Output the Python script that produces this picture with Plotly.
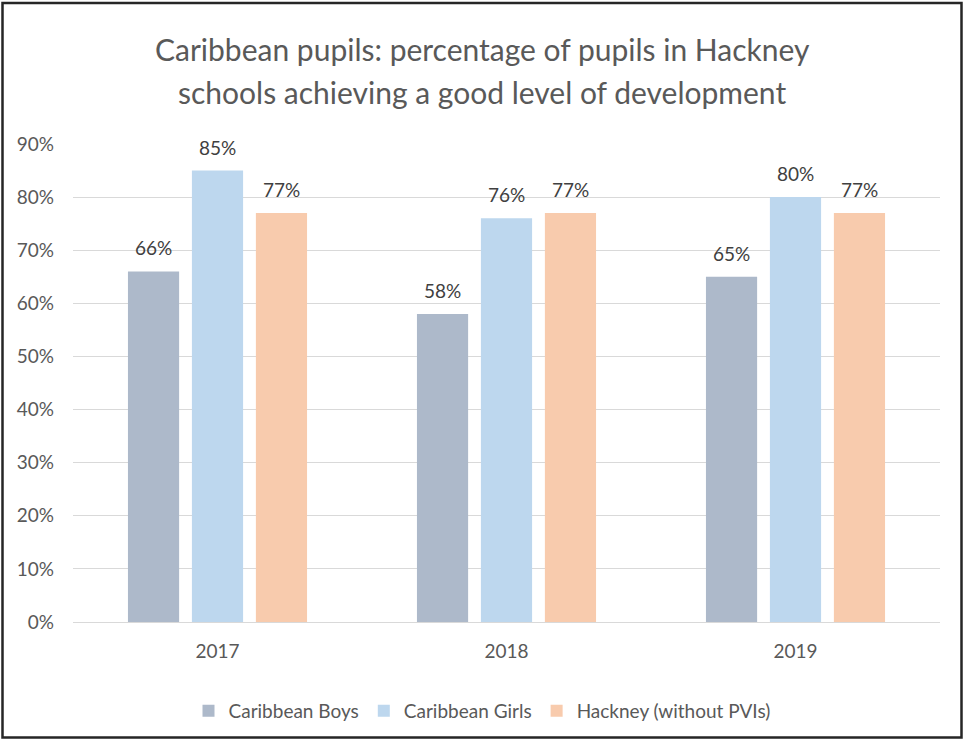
import plotly.graph_objects as go

# Chart data
years = ["2017", "2018", "2019"]
series_names = ["Caribbean Boys", "Caribbean Girls", "Hackney (without PVIs)"]
boys = [66, 58, 65]
girls = [85, 76, 80]
hackney = [77, 77, 77]
series_values = [boys, girls, hackney]
series_colors = ["#adb9ca", "#bdd7ee", "#f8cbad"]
y_ticks = [0, 10, 20, 30, 40, 50, 60, 70, 80, 90]
title_lines = [
    "Caribbean pupils: percentage of pupils in Hackney",
    "schools achieving a good level of development",
]

FONT = "Lato"
TEXT_GREY = "#595959"
LABEL_GREY = "#404040"

W, H = 964, 742
M_L, M_R, M_T, M_B = 73, 24, 144, 120
BARGAP = 0.336
GROUPGAP = 0.2

fig = go.Figure()
for name, vals, col in zip(series_names, series_values, series_colors):
    fig.add_trace(go.Bar(
        x=years, y=vals, name=name, marker=dict(color=col, line=dict(width=0)),
    ))

# Value labels above each bar, shifted to the centre of its bar within the group.
# Category positions are given by index so numeric-looking year names are not
# mistaken for indices.
plot_w = W - M_L - M_R
plot_h = H - M_T - M_B
cat_w = plot_w / len(years)
slot_w = cat_w * (1 - BARGAP) / len(series_names)
annotations = []
for k, vals in enumerate(series_values):
    dx = (k - (len(series_names) - 1) / 2) * slot_w
    for i, v in enumerate(vals):
        annotations.append(dict(
            x=i, y=v, xref="x", yref="y", text=f"{v}%", showarrow=False,
            xshift=dx, yshift=10, yanchor="bottom",
            font=dict(family=FONT, size=19, color=LABEL_GREY),
        ))

# Two-line chart title, placed in pixel terms relative to the figure
px_x = lambda p: (p - M_L) / plot_w
px_y = lambda p: (H - M_B - p) / plot_h
for line, yc in zip(title_lines, [49, 92]):
    annotations.append(dict(
        x=px_x(W / 2), xref="paper", y=px_y(yc), yref="paper",
        text=line, showarrow=False, xanchor="center", yanchor="middle",
        font=dict(family=FONT, size=30, color=TEXT_GREY),
    ))

# Outer frame around the whole chart
shapes = [dict(
    type="rect", xref="paper", yref="paper",
    x0=px_x(2.5), x1=px_x(961.5), y0=px_y(737.5), y1=px_y(3),
    line=dict(color="#262626", width=2.5), fillcolor="rgba(0,0,0,0)", layer="above",
)]

fig.update_layout(
    width=W, height=H,
    margin=dict(l=M_L, r=M_R, t=M_T, b=M_B, pad=0),
    paper_bgcolor="white", plot_bgcolor="white",
    barmode="group", bargap=BARGAP, bargroupgap=GROUPGAP,
    font=dict(family=FONT, color=TEXT_GREY),
    xaxis=dict(
        type="category", range=[-0.5, len(years) - 0.5],
        showgrid=False, showline=False, ticks="", zeroline=False,
        tickfont=dict(family=FONT, size=19, color=TEXT_GREY),
        ticklabelstandoff=16,
    ),
    yaxis=dict(
        range=[0, 90], tickvals=y_ticks, ticktext=[f"{t}%" for t in y_ticks],
        showgrid=True, gridcolor="#d9d9d9", gridwidth=1,
        zeroline=True, zerolinecolor="#d9d9d9", zerolinewidth=1,
        showline=False, ticks="",
        tickfont=dict(family=FONT, size=19, color=TEXT_GREY),
        ticklabelstandoff=18,
    ),
    legend=dict(
        orientation="h", x=0.5, xanchor="center", xref="container",
        y=1 - 711 / H, yanchor="middle", yref="container",
        font=dict(family=FONT, size=19, color=TEXT_GREY),
        traceorder="normal", itemclick=False,
    ),
    annotations=annotations,
    shapes=shapes,
    showlegend=True,
)

fig.write_html("out.html")
